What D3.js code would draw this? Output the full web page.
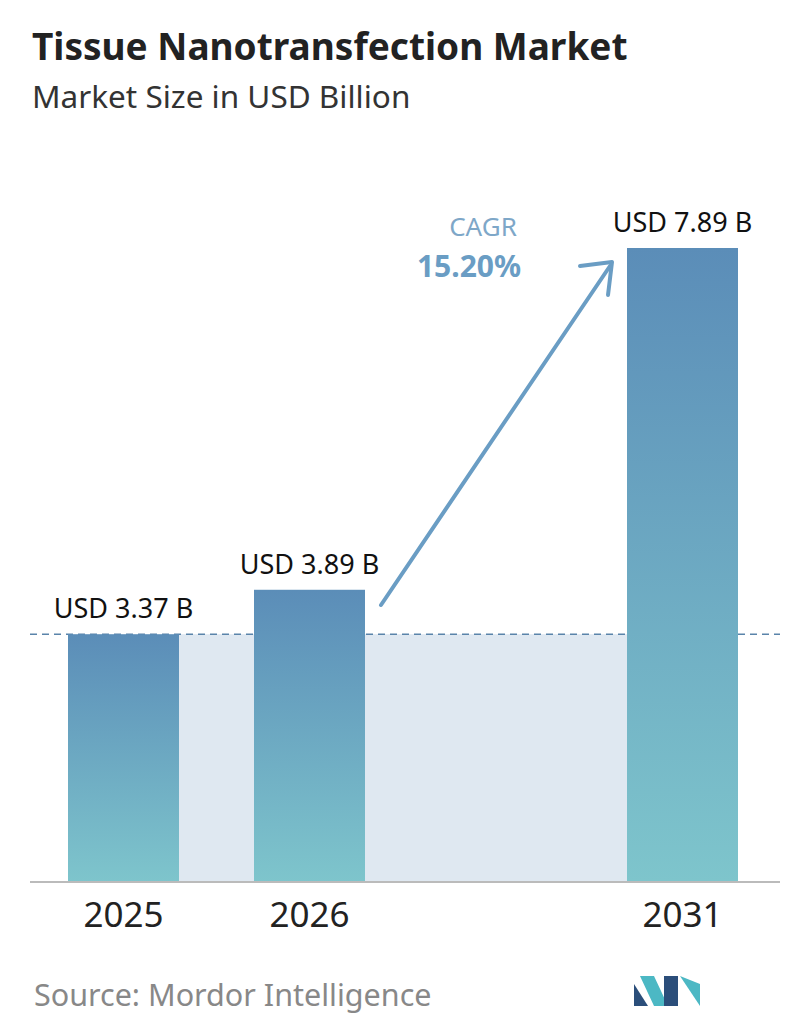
<!DOCTYPE html><html><head><script src="https://cdn.jsdelivr.net/npm/d3@7"></script>
<style>body{margin:0;background:#fff}</style></head><body><svg id="c" width="796" height="1034"></svg>
<script>
const categories=["2025","2026","2031"];
const values=[3.37,3.89,7.89];
const labels=["USD 3.37 B","USD 3.89 B","USD 7.89 B"];
const cagr="15.20%";
const svg=d3.select("#c"),F="'Noto Sans',sans-serif";
const base=882;
const xp={"2025":68,"2026":254,"2031":627};
const y=d3.scaleLinear().domain([0.47,7.89]).range([base,248]);
const bw=111;
const g=svg.append("defs").append("linearGradient").attr("id","gr").attr("x1",0).attr("y1",0).attr("x2",0).attr("y2",1);
g.append("stop").attr("offset",0).attr("stop-color","#5b8db8");
g.append("stop").attr("offset",1).attr("stop-color","#7ec5cc");
svg.append("text").attr("x",32).attr("y",60).attr("font-family",F).attr("font-weight",700).attr("font-size",37).attr("fill","#222").text("Tissue Nanotransfection Market");
svg.append("text").attr("x",32).attr("y",108).attr("font-family",F).attr("font-size",31.5).attr("fill","#333").text("Market Size in USD Billion");
const y0=y(values[0]);
svg.append("rect").attr("x",xp["2025"]+bw).attr("y",y0).attr("width",xp["2031"]-xp["2025"]-bw).attr("height",base-y0).attr("fill","#dfe8f1");
svg.append("line").attr("x1",30).attr("x2",780).attr("y1",y0).attr("y2",y0).attr("stroke","#5a84aa").attr("stroke-width",1.5).attr("stroke-dasharray","7,5");
categories.forEach((c,i)=>{
 svg.append("rect").attr("x",xp[c]).attr("y",y(values[i])).attr("width",bw).attr("height",base-y(values[i])).attr("fill","url(#gr)");
 svg.append("text").attr("x",xp[c]+bw/2).attr("y",y(values[i])-16).attr("text-anchor","middle").attr("font-family",F).attr("font-size",27).attr("fill","#111").text(labels[i]);
 svg.append("text").attr("x",xp[c]+bw/2).attr("y",927).attr("text-anchor","middle").attr("font-family",F).attr("font-size",35).attr("fill","#222").text(c);
});
svg.append("line").attr("x1",30).attr("x2",780).attr("y1",base).attr("y2",base).attr("stroke","#bbb").attr("stroke-width",2);
const ac="#6a9dc4";
svg.append("line").attr("x1",381).attr("y1",605).attr("x2",610).attr("y2",266).attr("stroke",ac).attr("stroke-width",4).attr("stroke-linecap","round");
svg.append("path").attr("d","M580,266 L612,262 L608,295").attr("fill","none").attr("stroke",ac).attr("stroke-width",4).attr("stroke-linecap","round").attr("stroke-linejoin","round");
svg.append("text").attr("x",483).attr("y",236).attr("text-anchor","middle").attr("font-family",F).attr("font-size",26).attr("fill","#7ea7c8").text("CAGR");
svg.append("text").attr("x",469).attr("y",277).attr("text-anchor","middle").attr("font-family",F).attr("font-weight",700).attr("font-size",30).attr("fill",ac).text(cagr);
svg.append("text").attr("x",34).attr("y",1006).attr("font-family",F).attr("font-size",30.5).attr("fill","#888").text("Source: Mordor Intelligence");
const lg=svg.append("g").attr("transform","translate(634,976)");
lg.append("path").attr("d","M0,30 L0,8 L14,30 Z").attr("fill","#2b4e7a");
lg.append("path").attr("d","M6,0 L20,0 L34,30 L20,30 Z").attr("fill","#4cb8c4");
lg.append("path").attr("d","M30,0 L44,0 L44,30 L30,30 Z").attr("fill","#2b4e7a");
lg.append("path").attr("d","M46,0 L66,30 L66,8 Z").attr("fill","#4cb8c4");
</script></body></html>
